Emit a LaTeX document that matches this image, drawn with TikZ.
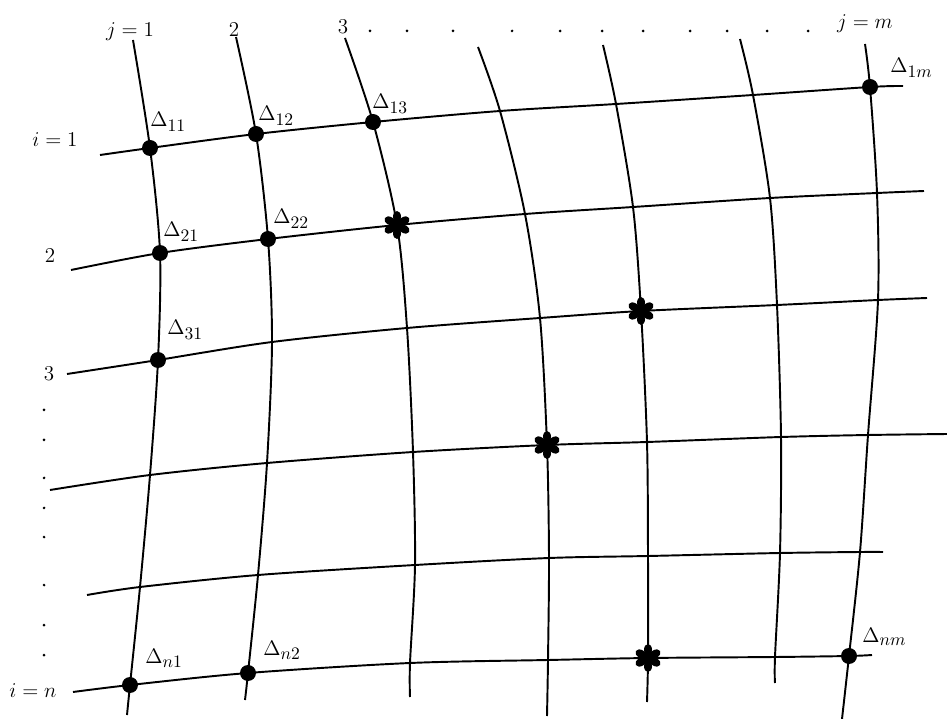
\documentclass[tikz,border=0pt]{standalone}
\usepackage{tikz}
\usetikzlibrary{positioning}

\newcommand{\dlab}[1]{$\Delta_{\mbox{\fontsize{10}{10}\selectfont$#1$}}$}

\begin{document}
\begin{tikzpicture}[x=0.02cm, y=-0.02cm,
    gline/.style={line width=1.1pt},
    knot/.style={circle, fill=black, inner sep=0pt, minimum size=0.32cm},
    tick/.style={circle, fill=black, inner sep=0pt, minimum size=0.06cm},
    lbl/.style={inner sep=0pt, font=\fontsize{12}{14}\selectfont},
    asterisk/.pic={
      \fill (0,0) circle (0.09cm);
      \foreach \a in {90,30,-30,-90,-150,150} {
        \draw[line width=2pt, rotate=\a] (0,0) -- (0.14cm,0);
        \fill[rotate=\a] (0.165cm,0) ellipse (0.115cm and 0.08cm);
      }
    }
  ]
  \useasboundingbox (0,0) rectangle (947,719);

  % crossing points, row i / column j
  \coordinate (g11) at (150,148); \coordinate (g12) at (256,134); \coordinate (g13) at (373,122);
  \coordinate (g14) at (500,111); \coordinate (g15) at (616,104); \coordinate (g16) at (753,95);
  \coordinate (g17) at (870,87);
  \coordinate (g21) at (160,253); \coordinate (g22) at (268,239); \coordinate (g23) at (397,225);
  \coordinate (g24) at (525,214); \coordinate (g25) at (633,207); \coordinate (g26) at (770,198);
  \coordinate (g27) at (877,193);
  \coordinate (g31) at (158,360); \coordinate (g32) at (272,342); \coordinate (g33) at (407,328);
  \coordinate (g34) at (540,318); \coordinate (g35) at (641,311); \coordinate (g36) at (777,305);
  \coordinate (g37) at (878,300);
  \coordinate (g41) at (150,475); \coordinate (g42) at (267,463); \coordinate (g43) at (413,452);
  \coordinate (g44) at (547,445); \coordinate (g45) at (647,442); \coordinate (g46) at (781,437);
  \coordinate (g47) at (868,435);
  \coordinate (g51) at (140,587); \coordinate (g52) at (258,575); \coordinate (g53) at (415,565);
  \coordinate (g54) at (549,558); \coordinate (g55) at (648,556); \coordinate (g56) at (780,553);
  \coordinate (g57) at (860,552);
  \coordinate (g61) at (130,685); \coordinate (g62) at (248,673); \coordinate (g63) at (410,663);
  \coordinate (g64) at (548,660); \coordinate (g65) at (648,658); \coordinate (g66) at (775,657);
  \coordinate (g67) at (849,656);

  % free ends of the curves
  \coordinate (top1) at (133,40);  \coordinate (bot1) at (127,715);
  \coordinate (top2) at (236,37);  \coordinate (bot2) at (245,700);
  \coordinate (top3) at (345,38);  \coordinate (bot3) at (410,697);
  \coordinate (top4) at (478,47);  \coordinate (bot4) at (547,716);
  \coordinate (top5) at (603,45);  \coordinate (bot5) at (647,702);
  \coordinate (top6) at (740,39);  \coordinate (bot6) at (775,683);
  \coordinate (top7) at (865,44);  \coordinate (bot7) at (842,719);
  \coordinate (lft1) at (100,155); \coordinate (rgt1) at (903,86);
  \coordinate (lft2) at (71,270);  \coordinate (rgt2) at (924,191);
  \coordinate (lft3) at (67,374);  \coordinate (rgt3) at (927,298);
  \coordinate (lft4) at (50,490);  \coordinate (rgt4) at (947,434);
  \coordinate (lft5) at (87,595);  \coordinate (rgt5) at (883,552);
  \coordinate (lft6) at (73,692);  \coordinate (rgt6) at (872,655);

  % columns j
  \foreach \j in {1,...,7} {
    \draw[gline] plot[smooth] coordinates {(top\j) (g1\j) (g2\j) (g3\j) (g4\j) (g5\j) (g6\j) (bot\j)};
  }
  % rows i
  \foreach \i in {1,...,6} {
    \draw[gline] plot[smooth] coordinates {(lft\i) (g\i1) (g\i2) (g\i3) (g\i4) (g\i5) (g\i6) (g\i7) (rgt\i)};
  }

  % known points
  \foreach \p in {11,12,13,21,22,31,17,61,62,67} {
    \node[knot] (k\p) at (g\p) {};
  }
  % starred points
  \foreach \p in {23,35,44,65} {
    \pic (s\p) at (g\p) {asterisk};
  }

  \node[lbl, anchor=base west] (d11) at (150,127) {\dlab{11}};
  \node[lbl, anchor=base west] (d12) at (258,121) {\dlab{12}};
  \node[lbl, anchor=base west] (d13) at (372,109) {\dlab{13}};
  \node[lbl, anchor=base west] (d21) at (163,237) {\dlab{21}};
  \node[lbl, anchor=base west] (d22) at (273,224) {\dlab{22}};
  \node[lbl, anchor=base west] (d31) at (167,335) {\dlab{31}};
  \node[lbl, anchor=base west] (d1m) at (890,73) {\dlab{1m}};
  \node[lbl, anchor=base west] (dn1) at (145,663) {\dlab{n1}};
  \node[lbl, anchor=base west] (dn2) at (263,655) {\dlab{n2}};
  \node[lbl, anchor=base west] (dnm) at (862,642) {\dlab{nm}};

  % column numbers
  \node[lbl, anchor=base] (cj1) at (130,37) {$j=1$};
  \node[lbl, anchor=base] (cj2) at (234,37) {2};
  \node[lbl, anchor=base] (cj3) at (343,34) {3};
  \node[lbl, anchor=base] (cjm) at (865,29) {$j=m$};
  \foreach \x [count=\n] in {370,407,453,512,560,602,643,690,727,767,808} {
    \node[tick] (tc\n) at (\x,31) {};
  }
  % row numbers
  \node[lbl, anchor=base] (ri1) at (55,147) {$i=1$};
  \node[lbl, anchor=base] (ri2) at (50,263) {2};
  \node[lbl, anchor=base] (ri3) at (49,381) {3};
  \node[lbl, anchor=base] (rin) at (33,697) {$i=n$};
  \foreach \y [count=\n] in {410,440,478,508,537,585,625,655} {
    \node[tick] (tr\n) at (44,\y) {};
  }
\end{tikzpicture}
\end{document}
